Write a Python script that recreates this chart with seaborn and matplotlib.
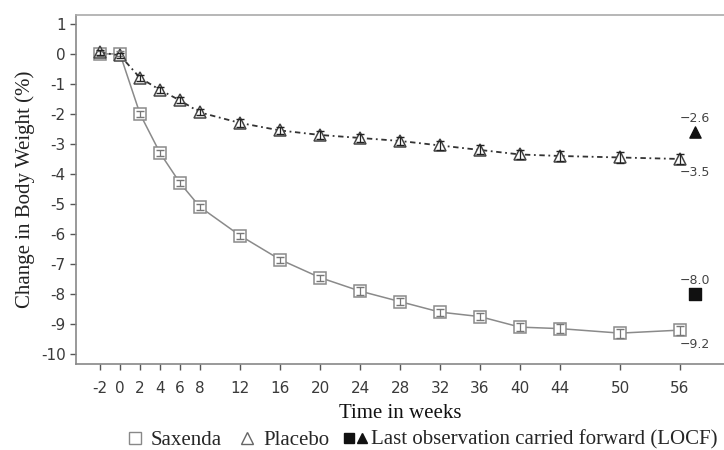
import matplotlib
matplotlib.use("Agg")
import matplotlib.pyplot as plt
from matplotlib.lines import Line2D
from matplotlib.legend_handler import HandlerTuple
import seaborn as sns
import pandas as pd

weeks = [-2, 0, 2, 4, 6, 8, 12, 16, 20, 24, 28, 32, 36, 40, 44, 50, 56]
saxenda = [0.0, 0.0, -2.0, -3.3, -4.3, -5.1, -6.05, -6.85, -7.45, -7.9, -8.25, -8.6, -8.75, -9.1, -9.15, -9.3, -9.2]
placebo = [0.05, -0.05, -0.8, -1.2, -1.55, -1.95, -2.3, -2.55, -2.7, -2.8, -2.9, -3.05, -3.2, -3.35, -3.4, -3.45, -3.5]
sax_err = [0.08, 0.08, 0.1, 0.1, 0.1, 0.1, 0.1, 0.1, 0.1, 0.12, 0.12, 0.12, 0.12, 0.14, 0.14, 0.15, 0.15]
pla_err = [0.08, 0.08, 0.1, 0.1, 0.1, 0.1, 0.12, 0.12, 0.12, 0.14, 0.14, 0.14, 0.15, 0.16, 0.16, 0.17, 0.18]
locf_week = 57.5
locf_saxenda = -8.0
locf_placebo = -2.6
yticks = list(range(1, -11, -1))

sns.set_theme(style="white")
plt.rcParams['font.family'] = ['DejaVu Sans']

fig = plt.figure(figsize=(7.24, 4.5), dpi=100)
ax = fig.add_axes([0.105, 0.191, 0.895, 0.776])

df = pd.DataFrame({"week": weeks * 2,
                   "value": saxenda + placebo,
                   "group": ["Saxenda"] * len(weeks) + ["Placebo"] * len(weeks)})

sns.lineplot(data=df[df.group == "Saxenda"], x="week", y="value", ax=ax,
             color="#8a8a8a", lw=1.1, marker="s", markersize=9,
             markerfacecolor="white", markeredgecolor="#8a8a8a", markeredgewidth=1.1)
sns.lineplot(data=df[df.group == "Placebo"], x="week", y="value", ax=ax,
             color="#333333", lw=1.3, linestyle=(0, (3, 2, 1, 2)), marker="^", markersize=9,
             markerfacecolor="white", markeredgecolor="#444444", markeredgewidth=1.1)
ax.errorbar(weeks, saxenda, yerr=sax_err, fmt="none", ecolor="#777777", elinewidth=0.9, capsize=3, zorder=4)
ax.errorbar(weeks, placebo, yerr=pla_err, fmt="none", ecolor="#222222", elinewidth=0.9, capsize=3, zorder=4)

ax.scatter([locf_week], [locf_saxenda], marker="s", s=65, color="#111111", zorder=5)
ax.scatter([locf_week], [locf_placebo], marker="^", s=65, color="#111111", zorder=5)

lab_kw = dict(fontsize=9, color="#444444", ha="center")
ax.text(locf_week, locf_placebo + 0.22, "\u22122.6", va="bottom", **lab_kw)
ax.text(locf_week, placebo[-1] - 0.25, "\u22123.5", va="top", **lab_kw)
ax.text(locf_week, locf_saxenda + 0.22, "\u22128.0", va="bottom", **lab_kw)
ax.text(locf_week, saxenda[-1] - 0.25, "\u22129.2", va="top", **lab_kw)

ax.set_xlim(-4.4, 60.4)
ax.set_ylim(-10.33, 1.3)
ax.set_xticks(weeks)
ax.set_xticklabels([str(w) for w in weeks])
ax.set_yticks(yticks)
ax.set_yticklabels([str(t) for t in yticks])
ax.tick_params(axis="both", direction="out", length=4, width=1, color="#555555",
               labelcolor="#3a3a3a", labelsize=11, bottom=True, left=True)
ax.tick_params(axis="x", pad=8)
ax.set_xlabel("Time in weeks", family="Liberation Serif", fontsize=15, color="#111111", labelpad=6)
ax.set_ylabel("Change in Body Weight (%)", family="Liberation Serif", fontsize=15, color="#222222", labelpad=4)

for s in ["left", "bottom"]:
    ax.spines[s].set_color("#888888")
    ax.spines[s].set_linewidth(1.2)
ax.spines["top"].set_color("#aaaaaa")
ax.spines["top"].set_linewidth(1.2)
ax.spines["right"].set_visible(False)

h1 = Line2D([], [], marker="s", color="none", markerfacecolor="white", markeredgecolor="#888888", markersize=8)
h2 = Line2D([], [], marker="^", color="none", markerfacecolor="white", markeredgecolor="#666666", markersize=8)
h3 = Line2D([], [], marker="s", color="none", markerfacecolor="#111111", markeredgecolor="#111111", markersize=7)
h4 = Line2D([], [], marker="^", color="none", markerfacecolor="#111111", markeredgecolor="#111111", markersize=7)
fig.legend([h1, h2, (h3, h4)], ["Saxenda", "Placebo", "Last observation carried forward (LOCF)"],
           handler_map={tuple: HandlerTuple(ndivide=None, pad=0.3)},
           loc="center", bbox_to_anchor=(0.582, 0.022), ncol=3, frameon=False,
           prop={"family": "Liberation Serif", "size": 15}, handlelength=0.9,
           handletextpad=0.3, columnspacing=0.8, borderaxespad=0)

fig.savefig("out.png", dpi=100, facecolor="white")
